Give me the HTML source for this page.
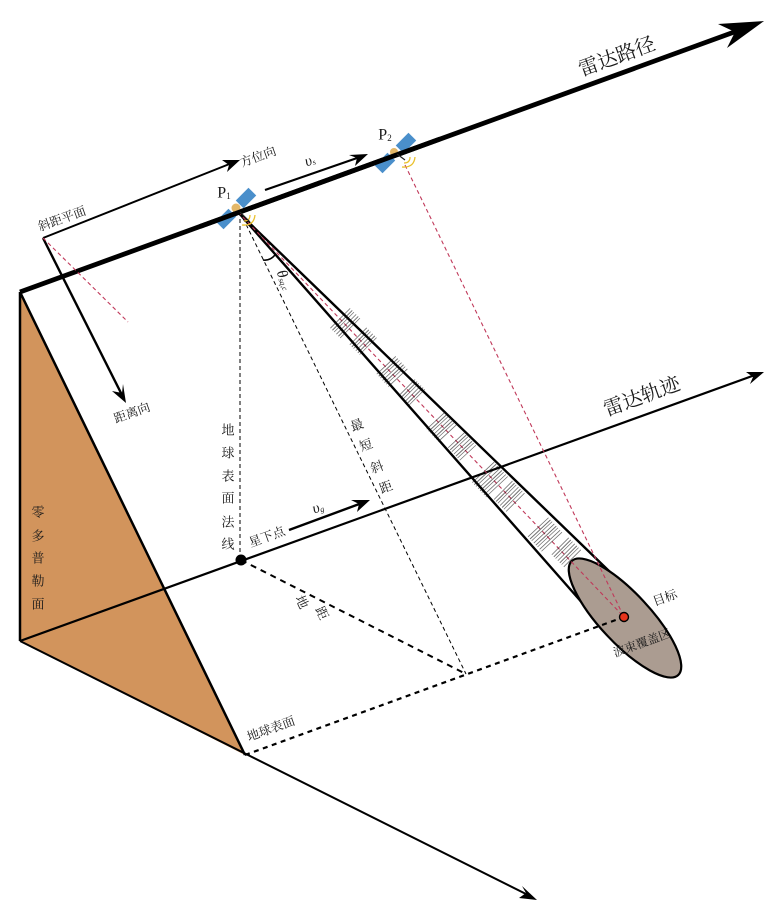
<!DOCTYPE html>
<html><head><meta charset="utf-8"><style>
html,body{margin:0;padding:0;background:#fff}
svg{display:block}
text{font-family:"Liberation Serif","Noto Serif CJK SC",serif;fill:#1a1a1a;dominant-baseline:central;text-anchor:middle}
.i{font-style:italic}
</style></head><body>
<svg width="784" height="918" viewBox="0 0 784 918" xmlns="http://www.w3.org/2000/svg">
<polygon points="20,292 20,641 245,755" fill="#d2945c"/>
<g fill="none" stroke="#000">
<path d="M20,292 V641 M20,292 L245,755" stroke-width="2.5"/>
<path d="M20,641 L530,896" stroke-width="2"/>
<path d="M20,641 L755,375" stroke-width="2.2"/>
<path d="M20,292 L737,31" stroke-width="4.8"/>
<path d="M238,212 L610,572 M238,212 L592,614" stroke-width="2.4"/>
<path d="M43,238 L232,163" stroke-width="2"/>
<path d="M43,238 L122,395" stroke-width="2.4"/>
<path d="M265,190 L360,157" stroke-width="2.2"/>
<path d="M289,530 L362,503" stroke-width="2.4"/>
<path d="M263,260 Q270,261 275,255" stroke-width="1.6"/>
<path d="M240,212 V560 M240,212 L466,674" stroke-width="1" stroke-dasharray="4 3"/>
<path d="M241,560 L466,674" stroke-width="2" stroke-dasharray="6 5"/>
</g>
<ellipse cx="625" cy="618" rx="78" ry="25" transform="rotate(47 625 618)" fill="#ab9c91" stroke="#000" stroke-width="2.2"/>
<path d="M245,755 L624,617" fill="none" stroke="#000" stroke-width="2.2" stroke-dasharray="5 4.5"/>
<g fill="#000">
<polygon points="764,21 718,24 735,32 727,48"/>
<polygon points="764,372 746,372 753,377 750,384"/>
<polygon points="537,900 519,898 526,893 522,886"/>
<polygon points="240,160 222,160 229,165 227,172"/>
<polygon points="126,403 112,391 122,393 123,384"/>
<polygon points="368,154 349,155 357,158 355,166"/>
<polygon points="370,500 351,500 359,504 357,512"/>
<circle cx="241" cy="560" r="5.5"/>
</g>
<g fill="none" stroke="#c0395a" stroke-width="1.1" stroke-dasharray="4 3">
<path d="M238,212 L624,617"/>
<path d="M405,165 L624,617"/>
<path d="M43,238 L128,322"/>
</g>
<g fill="none" stroke="#111" stroke-opacity=".6" stroke-dasharray=".8 2 1 1.6 .7 2.4">
<path d="M340,318 L352,330" stroke-width="28"/>
<path d="M358,336 L369,347" stroke-width="24"/>
<path d="M386,365 L399,379" stroke-width="26"/>
<path d="M407,387 L419,399" stroke-width="22"/>
<path d="M436,420 L449,434" stroke-width="26"/>
<path d="M456,440 L468,453" stroke-width="22"/>
<path d="M483,472 L497,487" stroke-width="30"/>
<path d="M503,490 L517,504" stroke-width="26"/>
<path d="M538,527 L552,542" stroke-width="28"/>
<path d="M560,546 L574,560" stroke-width="24"/>
</g>
<circle cx="624" cy="617" r="4.5" fill="#e6341c" stroke="#000" stroke-width="1.4"/>

<rect x="237" y="192.500" width="18" height="11" fill="#4a8fcb" transform="rotate(-45 246 198)"/>
<rect x="217" y="213.500" width="18" height="11" fill="#4a8fcb" transform="rotate(-45 226 219)"/>
<circle cx="236" cy="208" r="4.500" fill="#e3b768"/>
<path d="M244,221 Q250,221 250,215 M242,225 Q254,226 255,215" fill="none" stroke="#eac02c" stroke-width="1.3"/>
<rect x="397" y="137.500" width="18" height="11" fill="#4a8fcb" transform="rotate(-45 406 143)"/>
<rect x="376" y="157.500" width="18" height="11" fill="#4a8fcb" transform="rotate(-45 385 163)"/>
<circle cx="394" cy="152" r="4" fill="#e3b768"/>
<path d="M404,163 Q410,163 410,157 M402,167 Q414,168 415,157" fill="none" stroke="#eac02c" stroke-width="1.3"/>
<path d="M200,226.500 L440,139" stroke="#000" stroke-width="4.8" fill="none"/>
<path d="M240,212 L250,222 M397,154 L405,160" stroke="#222" stroke-width="1.2"/>

<text font-size="20" transform="translate(617,57) rotate(-20)">雷达路径</text>
<text font-size="20" transform="translate(642,397) rotate(-20)">雷达轨迹</text>
<text font-size="12.500" transform="translate(258,157) rotate(-20)">方位向</text>
<text font-size="12.500" transform="translate(62,219) rotate(-20)">斜距平面</text>
<text font-size="12.500" transform="translate(132,413) rotate(-20)">距离向</text>
<text font-size="12.500" transform="translate(267,537) rotate(-20)">星下点</text>
<text font-size="12.500" transform="translate(271,729) rotate(-20)">地球表面</text>
<text font-size="12.500" transform="translate(665,598) rotate(-20)">目标</text>
<text font-size="12" transform="translate(642,643) rotate(-20)">波束覆盖区</text>
<text font-size="13" x="228" y="430">地</text>
<text font-size="13" x="228" y="453">球</text>
<text font-size="13" x="228" y="476">表</text>
<text font-size="13" x="228" y="498">面</text>
<text font-size="13" x="228" y="522">法</text>
<text font-size="13" x="228" y="544">线</text>
<text font-size="13" x="38" y="512">零</text>
<text font-size="13" x="38" y="536">多</text>
<text font-size="13" x="38" y="558">普</text>
<text font-size="13" x="38" y="581">勒</text>
<text font-size="13" x="38" y="604">面</text>
<text font-size="13" transform="translate(357,425) rotate(-20)">最</text>
<text font-size="13" transform="translate(366,445) rotate(-20)">短</text>
<text font-size="13" transform="translate(377,467) rotate(-20)">斜</text>
<text font-size="13" transform="translate(386,487) rotate(-20)">距</text>
<text font-size="13" transform="translate(302,602) rotate(65)">地</text>
<text font-size="13" transform="translate(322,613) rotate(65)">距</text>
<text font-size="16" x="224" y="193">P<tspan font-size="9" dy="3">1</tspan></text>
<text font-size="16" x="385" y="135">P<tspan font-size="9" dy="3">2</tspan></text>
<text class="i" font-size="15" transform="translate(310,161) rotate(-20)">υ<tspan font-size="8" dy="2">s</tspan></text>
<text class="i" font-size="15" transform="translate(318,508) rotate(-20)">υ<tspan font-size="8" dy="2">g</tspan></text>
<text class="i" font-size="15" transform="translate(284,280) rotate(68)">θ<tspan font-size="8" dy="2">sq,c</tspan></text>
</svg>
</body></html>
